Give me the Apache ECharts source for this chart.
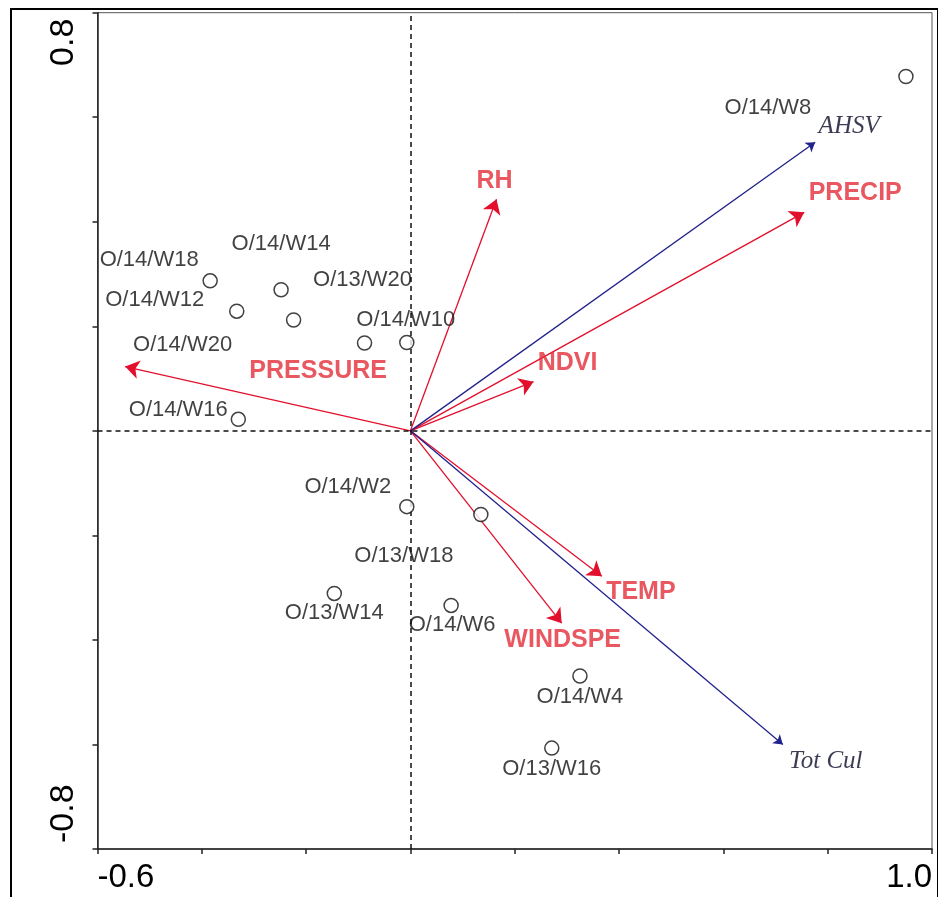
<!DOCTYPE html>
<html>
<head>
<meta charset="utf-8">
<title>Ordination biplot</title>
<script src="https://cdn.jsdelivr.net/npm/echarts@6/dist/echarts.min.js"></script>
<style>
  html, body { margin: 0; padding: 0; background: #fff; }
  #chart { width: 938px; height: 897px; }
</style>
</head>
<body>
<div id="chart"></div>
<script>
// Sample scores (axis 1, axis 2)
const sampleNames = ['O/14/W8', 'O/14/W18', 'O/14/W14', 'O/14/W12', 'O/14/W20', 'O/13/W20', 'O/14/W10',
  'O/14/W16', 'O/14/W2', 'O/13/W18', 'O/13/W14', 'O/14/W6', 'O/14/W4', 'O/13/W16'];
const sampleX = [0.950, -0.384, -0.248, -0.333, -0.224, -0.088, -0.007,
  -0.330, -0.007, 0.135, -0.146, 0.078, 0.325, 0.271];
const sampleY = [0.678, 0.287, 0.270, 0.229, 0.212, 0.168, 0.169,
  0.022, -0.145, -0.160, -0.311, -0.334, -0.469, -0.607];

// Environmental variable vectors
const envNames = ['RH', 'PRECIP', 'NDVI', 'PRESSURE', 'TEMP', 'WINDSPE'];
const envX = [0.165, 0.755, 0.236, -0.547, 0.367, 0.290];
const envY = [0.443, 0.418, 0.094, 0.123, -0.278, -0.368];

// Response (species) vectors
const speciesNames = ['AHSV', 'Tot Cul'];
const speciesX = [0.776, 0.714];
const speciesY = [0.552, -0.600];

// Axis ranges and the tick labels that are printed
const xRange = [-0.6, 1.0];
const yRange = [-0.8, 0.8];
const tickStep = 0.2;
const xTickLabels = ['-0.6', '1.0'];
const yTickLabels = ['-0.8', '0.8'];

// Label placement (pixel offset of text centre from its mark)
const sampleLabelOffset = {
  'O/14/W8': [-138, 31], 'O/14/W18': [-61, -21], 'O/14/W14': [0, -46], 'O/14/W12': [-82, -11],
  'O/14/W20': [-111, 25], 'O/13/W20': [-2, -63], 'O/14/W10': [-1, -23], 'O/14/W16': [-60, -9],
  'O/14/W2': [-59, -20], 'O/13/W18': [-77, 41], 'O/13/W14': [0, 20], 'O/14/W6': [1, 20],
  'O/14/W4': [0, 21], 'O/13/W16': [0, 21]
};
const vectorLabelOffset = {
  'RH': [-2, -18], 'PRECIP': [51, -19], 'NDVI': [34, -19], 'PRESSURE': [193, 5],
  'TEMP': [39, 16], 'WINDSPE': [1, 17], 'AHSV': [34, -16], 'Tot Cul': [43, 17]
};

const RED_LINE = '#e2102c';
const RED_TEXT = '#e42e38';
const BLUE_LINE = '#22228c';

function fmtTick(list) {
  return function (v) {
    const s = (Math.abs(v) < 1e-9 ? 0 : v).toFixed(1);
    return list.indexOf(s) >= 0 ? s : '';
  };
}

const sampleData = sampleNames.map((n, i) => ({
  name: n, value: [sampleX[i], sampleY[i]],
  label: { offset: sampleLabelOffset[n] }
}));

function vectorLines(names, xs, ys) {
  return names.map((n, i) => ({ name: n, coords: [[0, 0], [xs[i], ys[i]]] }));
}
function vectorTips(names, xs, ys) {
  return names.map((n, i) => ({
    name: n, value: [xs[i], ys[i]],
    label: { offset: vectorLabelOffset[n] }
  }));
}

const chart = echarts.init(document.getElementById('chart'));
chart.setOption({
  animation: false,
  backgroundColor: '#fff',
  grid: {
    left: 97.5, right: 6, top: 12.7, bottom: 48,
    show: true, borderColor: '#555', borderWidth: 1
  },
  graphic: [{
    type: 'rect', silent: true, z: 100,
    shape: { x: 11, y: 9, width: 927, height: 905 },
    style: { fill: 'none', stroke: '#000', lineWidth: 2 }
  }],
  xAxis: {
    type: 'value', min: xRange[0], max: xRange[1], interval: tickStep,
    splitLine: { show: false },
    axisLine: { onZero: false, lineStyle: { color: '#222', width: 1.5 } },
    axisTick: { show: true, length: 5, lineStyle: { color: '#222', width: 1.5 } },
    axisLabel: {
      formatter: fmtTick(xTickLabels), margin: 12,
      fontFamily: 'Liberation Sans, Arial, sans-serif', fontSize: 33, color: '#000',
      showMinLabel: true, showMaxLabel: true,
      alignMinLabel: 'left', alignMaxLabel: 'right'
    }
  },
  yAxis: {
    type: 'value', min: yRange[0], max: yRange[1], interval: tickStep,
    splitLine: { show: false },
    axisLine: { onZero: false, lineStyle: { color: '#222', width: 1.5 } },
    axisTick: { show: true, length: 5, lineStyle: { color: '#222', width: 1.5 } },
    axisLabel: {
      formatter: fmtTick(yTickLabels), margin: 17, rotate: 90,
      padding: [0, 6, 0, 6],
      fontFamily: 'Liberation Sans, Arial, sans-serif', fontSize: 34, color: '#000',
      showMinLabel: true, showMaxLabel: true,
      alignMinLabel: 'left', alignMaxLabel: 'right'
    }
  },
  series: [
    {
      // dashed zero lines
      type: 'line', data: [], silent: true,
      markLine: {
        silent: true, symbol: 'none', label: { show: false },
        lineStyle: { color: '#111', type: [5, 4], width: 1.5 },
        data: [{ xAxis: 0 }, { yAxis: 0 }]
      }
    },
    {
      type: 'lines', coordinateSystem: 'cartesian2d', z: 3,
      symbol: ['none', 'arrow'], symbolSize: 14,
      lineStyle: { color: RED_LINE, width: 1.3, opacity: 1, curveness: 0 },
      data: vectorLines(envNames, envX, envY)
    },
    {
      type: 'lines', coordinateSystem: 'cartesian2d', z: 3,
      symbol: ['none', 'arrow'], symbolSize: 9,
      lineStyle: { color: BLUE_LINE, width: 1.3, opacity: 1, curveness: 0 },
      data: vectorLines(speciesNames, speciesX, speciesY)
    },
    {
      type: 'scatter', symbolSize: 0, z: 4, silent: true,
      label: {
        show: true, position: 'inside', formatter: '{b}',
        fontFamily: 'Liberation Sans, Arial, sans-serif', fontWeight: 'bold',
        fontSize: 25, color: RED_TEXT
      },
      data: vectorTips(envNames, envX, envY)
    },
    {
      type: 'scatter', symbolSize: 0, z: 4, silent: true,
      label: {
        show: true, position: 'inside', formatter: '{b}',
        fontFamily: 'Liberation Serif, Times New Roman, serif', fontStyle: 'italic',
        fontSize: 25, color: '#0a0a28'
      },
      data: vectorTips(speciesNames, speciesX, speciesY)
    },
    {
      type: 'scatter', symbol: 'circle', symbolSize: 14, z: 5,
      itemStyle: { color: '#fff', borderColor: '#111', borderWidth: 1.5 },
      label: {
        show: true, position: 'inside', formatter: '{b}',
        fontFamily: 'Liberation Sans, Arial, sans-serif', fontSize: 22, color: '#111'
      },
      data: sampleData
    }
  ]
});
</script>
</body>
</html>
